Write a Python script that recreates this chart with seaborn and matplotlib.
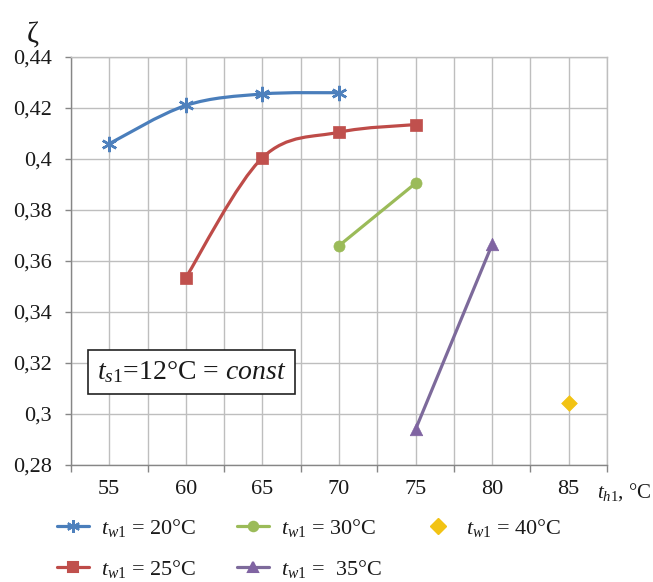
import numpy as np
import pandas as pd
import seaborn as sns
import matplotlib
matplotlib.use("Agg")
import matplotlib.pyplot as plt
from matplotlib.path import Path
from matplotlib.patches import PathPatch
from matplotlib.lines import Line2D

# ---- data ----
x_20 = [55, 60, 65, 70]
y_20 = [0.406, 0.421, 0.4255, 0.426]
x_25 = [60, 65, 70, 75]
y_25 = [0.3535, 0.4005, 0.4105, 0.4135]
x_30 = [70, 75]
y_30 = [0.366, 0.3905]
x_35 = [75, 80]
y_35 = [0.294, 0.3665]
x_40 = [85]
y_40 = [0.3045]

series_labels = ["20", "25", "30", "35", "40"]
x_categories = [55, 60, 65, 70, 75, 80, 85]
y_ticks = [0.28, 0.30, 0.32, 0.34, 0.36, 0.38, 0.40, 0.42, 0.44]
y_ticklabels = ["0,28", "0,3", "0,32", "0,34", "0,36", "0,38", "0,4", "0,42", "0,44"]

sns.set_theme(style="white")
plt.rcParams["font.family"] = ["Liberation Serif", "DejaVu Serif"]
plt.rcParams["mathtext.fontset"] = "custom"
plt.rcParams["mathtext.rm"] = "Liberation Serif"
plt.rcParams["mathtext.it"] = "Liberation Serif:italic"

fig = plt.figure(figsize=(6.53, 5.82), dpi=100)
ax = fig.add_axes([71 / 653, 1 - 465 / 582, (607 - 71) / 653, (465 - 57) / 582])

grid_c = "#BEBEBE"
txt_c = "#1a1a1a"
styles = {
    "20": dict(x=x_20, y=y_20, line="#4A7EBB", mfc="#4F81BD", marker=(6, 2, 0), ms=11),
    "25": dict(x=x_25, y=y_25, line="#BE4B48", mfc="#C0504D", marker="s", ms=9),
    "30": dict(x=x_30, y=y_30, line="#9BBB59", mfc="#9BBB59", marker="o", ms=8),
    "35": dict(x=x_35, y=y_35, line="#7D6A9B", mfc="#8064A2", marker="^", ms=9),
    "40": dict(x=x_40, y=y_40, line=None, mfc="#F2C314", marker="D", ms=8),
}


def smooth_path(xs, ys):
    pts = np.column_stack([xs, ys]).astype(float)
    n = len(pts)
    verts = [pts[0]]
    codes = [Path.MOVETO]
    for i in range(n - 1):
        p0 = pts[i - 1] if i > 0 else pts[i]
        p1 = pts[i]
        p2 = pts[i + 1]
        p3 = pts[i + 2] if i + 2 < n else pts[i + 1]
        c1 = p1 + (p2 - p0) / 6.0
        c2 = p2 - (p3 - p1) / 6.0
        verts += [c1, c2, p2]
        codes += [Path.CURVE4] * 3
    return Path(verts, codes)


handles = []
for key in series_labels:
    s = styles[key]
    if s["line"] is not None and len(s["x"]) > 1:
        patch = PathPatch(smooth_path(s["x"], s["y"]), facecolor="none",
                          edgecolor=s["line"], lw=2.3, zorder=3, capstyle="round")
        ax.add_patch(patch)
    df = pd.DataFrame({"x": s["x"], "y": s["y"]})
    if s["marker"] == (6, 2, 0):
        ax.plot(df["x"], df["y"], linestyle="none", marker=s["marker"], ms=s["ms"],
                mec=s["mfc"], mew=1.8, zorder=4)
    else:
        sns.scatterplot(data=df, x="x", y="y", ax=ax, marker=s["marker"],
                        s=s["ms"] ** 2, color=s["mfc"], edgecolor=s["mfc"],
                        linewidth=0.5, zorder=4, legend=False)
    if s["line"] is not None:
        h = Line2D([], [], color=s["line"], lw=2.3, marker=s["marker"],
                   ms=s["ms"] * 0.85, mfc=s["mfc"], mec=s["mfc"], mew=1.5)
    else:
        h = Line2D([], [], color="none", lw=0, marker=s["marker"],
                   ms=s["ms"], mfc=s["mfc"], mec=s["mfc"])
    handles.append(h)

ax.set_xlim(52.5, 87.5)
ax.set_ylim(0.28, 0.44)
ax.set_xticks(np.arange(52.5, 87.6, 5))
ax.set_xticklabels([])
ax.set_xticks(x_categories, minor=True)
ax.set_xticklabels([str(v) for v in x_categories], minor=True)
ax.set_yticks(y_ticks)
ax.set_yticklabels(y_ticklabels)
ax.tick_params(axis="x", which="major", direction="out", length=5, width=1,
               color="#868686", bottom=True)
ax.tick_params(axis="x", which="minor", length=0, pad=11, labelsize=16,
               labelcolor=txt_c)
ax.tick_params(axis="y", direction="out", length=4, width=1, color="#868686",
               left=True, pad=10, labelsize=16, labelcolor=txt_c)
ax.grid(True, which="both", axis="x", color=grid_c, lw=1)
ax.grid(True, which="major", axis="y", color=grid_c, lw=1)
ax.set_axisbelow(True)
for side in ["top", "right"]:
    ax.spines[side].set_color(grid_c)
    ax.spines[side].set_linewidth(1)
for side in ["left", "bottom"]:
    ax.spines[side].set_color("#868686")
    ax.spines[side].set_linewidth(1)
ax.set_xlabel("")
ax.set_ylabel("")

fig.text(33 / 653, 1 - 35 / 582, "ζ", fontsize=21, ha="center", va="center",
         color=txt_c)
fig.text(597 / 653, 1 - 492 / 582, r"$t_{h\mathrm{1}}$, °C", fontsize=15,
         ha="left", va="center", color=txt_c)

ax.text(0.0485, 0.228, r"$t_{s\mathrm{1}}$=12°C = $const$", transform=ax.transAxes,
        fontsize=20, ha="left", va="center", color=txt_c, zorder=6,
        bbox=dict(boxstyle="square,pad=0.33", fc="white", ec="#222222", lw=1.2))

labels = [r"$t_{w\mathrm{1}}$ = 20°C", r"$t_{w\mathrm{1}}$ = 25°C",
          r"$t_{w\mathrm{1}}$ = 30°C", r"$t_{w\mathrm{1}}$ =  35°C",
          r"$t_{w\mathrm{1}}$ = 40°C"]
leg = fig.legend(handles, labels, ncol=3, loc="upper left",
                 bbox_to_anchor=(57 / 653, 1 - 517 / 582), frameon=False,
                 borderpad=0, borderaxespad=0,
                 fontsize=16, handlelength=1.45, handletextpad=0.55,
                 columnspacing=1.8, labelspacing=0.85)
for t in leg.get_texts():
    t.set_color(txt_c)

fig.savefig("out.png", dpi=100)
